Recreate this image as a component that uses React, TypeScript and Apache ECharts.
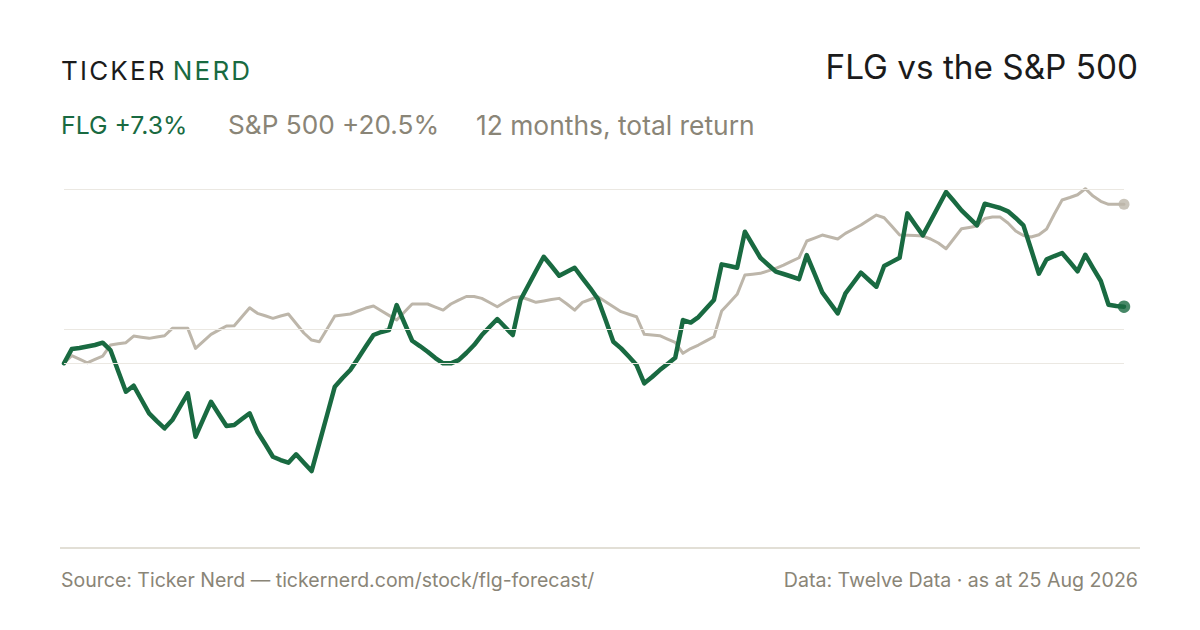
import React, { useEffect, useRef } from "react";
import * as echarts from "echarts";

// FLG cumulative total return, %
const flgReturns = [
  0, 1.83, 1.96, 2.15, 2.35, 2.65, 1.7, -1.01, -3.68, -2.9,
  -4.68, -6.46, -7.46, -8.4, -7.33, -5.61, -3.88, -9.48, -7.2, -4.97,
  -6.55, -8.1, -7.97, -7.2, -6.46, -8.84, -10.43, -12.06, -12.49, -12.84,
  -11.75, -12.84, -13.91, -10.3, -6.68, -3.03, -1.91, -0.88, 0.61, 2.15,
  3.64, 4.03, 4.28, 7.51, 5.19, 2.9, 2.22, 1.48, 0.67, -0.01,
  -0.01, 0.41, 1.32, 2.35, 3.64, 4.67, 5.7, 4.67, 3.64, 8.15,
  10.03, 11.9, 13.74, 12.54, 11.29, 11.81, 12.32, 10.99, 9.7, 8.28,
  5.57, 2.77, 1.92, 0.86, -0.23, -2.59, -1.78, -0.88, -0.1, 0.71,
  5.57, 5.25, 5.96, 7.06, 8.15, 12.76, 12.54, 12.32, 16.97, 15.29,
  13.61, 12.71, 11.81, 11.51, 11.19, 10.86, 13.96, 11.55, 9.15, 7.79,
  6.44, 9.02, 10.35, 11.68, 10.77, 9.87, 12.54, 13.08, 13.61, 19.34,
  17.9, 16.5, 18.35, 20.22, 22.09, 20.93, 19.73, 18.76, 17.79, 20.58,
  20.3, 20.03, 19.6, 18.74, 17.79, 14.67, 11.55, 13.41, 13.83, 14.22,
  13.06, 11.86, 14.0, 12.28, 10.61, 7.55, 7.38, 7.3,
];

// S&P 500 cumulative total return, %
const spxReturns = [
  0, 0.97, 0.54, 0.06, 0.5, 0.93, 2.35, 2.5, 2.65, 3.51,
  3.35, 3.21, 3.38, 3.55, 4.5, 4.5, 4.5, 1.92, 2.83, 3.73,
  4.28, 4.8, 4.84, 6.0, 7.16, 6.44, 6.12, 5.79, 6.09, 6.35,
  5.12, 3.9, 2.99, 2.77, 4.41, 6.09, 6.22, 6.35, 6.74, 7.12,
  7.38, 6.77, 6.18, 5.57, 6.61, 7.64, 7.64, 7.64, 7.25, 6.86,
  7.64, 8.15, 8.61, 8.61, 8.37, 7.83, 7.29, 7.9, 8.45, 8.58,
  8.22, 7.86, 8.03, 8.22, 8.37, 7.64, 6.86, 7.86, 8.22, 8.58,
  7.94, 7.29, 6.65, 6.32, 6.0, 3.73, 3.64, 3.55, 3.12, 2.7,
  1.28, 1.9, 2.35, 2.89, 3.42, 6.74, 7.81, 8.89, 11.38, 11.48,
  11.6, 11.92, 12.25, 12.67, 13.15, 13.61, 15.77, 16.15, 16.54, 16.28,
  16.03, 16.76, 17.29, 17.83, 18.48, 19.12, 18.77, 17.66, 16.54, 16.5,
  16.48, 16.41, 16.03, 15.51, 14.77, 16.06, 17.35, 17.52, 17.7, 18.67,
  18.86, 18.86, 18.09, 17.06, 16.48, 16.28, 16.58, 17.32, 19.25, 21.06,
  21.38, 21.74, 22.52, 21.57, 20.89, 20.5, 20.5, 20.5,
];

const periods = flgReturns.map((_, i) => String(i));
const gridLevels = [0, 4.37, 22.45];

const logoWords = ["TICKER", "NERD"];
const titleText = "FLG vs the S&P 500";
const legendFlg = "FLG +7.3%";
const legendSpx = "S&P 500 +20.5%";
const legendNote = "12 months, total return";
const sourceText = "Source: Ticker Nerd \u2014 tickernerd.com/stock/flg-forecast/";
const dataText = "Data: Twelve Data \u00b7 as at 25 Aug 2026";

const GREEN = "#196a41";
const GRAY_LINE = "#bdb6aa";
const GRAY_TEXT = "#8a8577";
const DARK = "#1b1b1b";
const RULE = "#e2dfd6";
const GRIDC = "#ebe8e2";
const FONT = "Inter, 'Noto Sans', sans-serif";

function measure(text: string, font: string): number {
  const ctx = document.createElement("canvas").getContext("2d");
  if (!ctx) return text.length * 14;
  ctx.font = font;
  return ctx.measureText(text).width;
}

function logoElements() {
  const size = 26;
  const font = `400 ${size}px ${FONT}`;
  const spacing = 2.2;
  const wordGap = 6;
  const els: any[] = [];
  let x = 61;
  logoWords.forEach((word, wi) => {
    const color = wi === 0 ? DARK : GREEN;
    for (const ch of word) {
      els.push({
        type: "text",
        style: {
          text: ch,
          x,
          y: 70.5,
          font,
          fill: color,
          textVerticalAlign: "middle",
        },
      });
      x += measure(ch, font) + spacing;
    }
    x += wordGap;
  });
  return els;
}

export default function App() {
  const ref = useRef<HTMLDivElement>(null);

  useEffect(() => {
    if (!ref.current) return;
    const chart = echarts.init(ref.current, null, { renderer: "svg" });
    const last = flgReturns.length - 1;

    chart.setOption({
      animation: false,
      backgroundColor: "#ffffff",
      grid: { left: 64, right: 76, top: 188, bottom: 82 },
      xAxis: {
        type: "category",
        data: periods,
        boundaryGap: false,
        show: false,
      },
      yAxis: {
        type: "value",
        min: -23.84,
        max: 22.61,
        show: false,
        splitLine: { show: false },
      },
      series: [
        {
          name: "grid",
          type: "line",
          data: spxReturns,
          z: 1,
          silent: true,
          showSymbol: false,
          lineStyle: { opacity: 0 },
          markLine: {
            silent: true,
            symbol: "none",
            label: { show: false },
            lineStyle: { color: GRIDC, width: 1.2, type: "solid" },
            data: gridLevels.map((v) => ({ yAxis: v })),
          },
        },
        {
          name: "S&P 500",
          type: "line",
          data: spxReturns,
          z: 2,
          clip: false,
          showSymbol: false,
          lineStyle: { color: GRAY_LINE, width: 3, join: "round", cap: "round" },
        },
        {
          name: "FLG",
          type: "line",
          data: flgReturns,
          z: 3,
          clip: false,
          showSymbol: false,
          lineStyle: { color: GREEN, width: 4.5, join: "round", cap: "round" },
        },
        {
          type: "scatter",
          z: 4,
          data: [[last, spxReturns[last]]],
          symbolSize: 11,
          itemStyle: { color: GRAY_LINE },
        },
        {
          type: "scatter",
          z: 5,
          data: [[last, flgReturns[last]]],
          symbolSize: 12.5,
          itemStyle: { color: GREEN },
        },
      ],
      graphic: [
        ...logoElements(),
        {
          type: "text",
          style: {
            text: titleText,
            x: 1138,
            y: 67,
            font: `400 33.3px ${FONT}`,
            fill: DARK,
            textAlign: "right",
            textVerticalAlign: "middle",
          },
        },
        {
          type: "text",
          style: {
            text: legendFlg,
            x: 61,
            y: 124.5,
            font: `400 24.8px ${FONT}`,
            fill: GREEN,
            textVerticalAlign: "middle",
          },
        },
        {
          type: "text",
          style: {
            text: legendSpx,
            x: 228,
            y: 124.5,
            font: `400 26.2px ${FONT}`,
            fill: GRAY_TEXT,
            textVerticalAlign: "middle",
          },
        },
        {
          type: "text",
          style: {
            text: legendNote,
            x: 476,
            y: 124.5,
            font: `400 26.4px ${FONT}`,
            fill: GRAY_TEXT,
            textVerticalAlign: "middle",
          },
        },
        {
          type: "line",
          shape: { x1: 60, y1: 548, x2: 1140, y2: 548 },
          style: { stroke: RULE, lineWidth: 2 },
        },
        {
          type: "text",
          style: {
            text: sourceText,
            x: 61,
            y: 580,
            font: `400 19.5px ${FONT}`,
            fill: GRAY_TEXT,
            textVerticalAlign: "middle",
          },
        },
        {
          type: "text",
          style: {
            text: dataText,
            x: 1138,
            y: 580,
            font: `400 19.6px ${FONT}`,
            fill: GRAY_TEXT,
            textAlign: "right",
            textVerticalAlign: "middle",
          },
        },
      ],
    });

    return () => chart.dispose();
  }, []);

  return (
    <div
      ref={ref}
      style={{
        position: "fixed",
        left: 0,
        top: 0,
        width: 1200,
        height: 630,
        background: "#ffffff",
      }}
    />
  );
}
